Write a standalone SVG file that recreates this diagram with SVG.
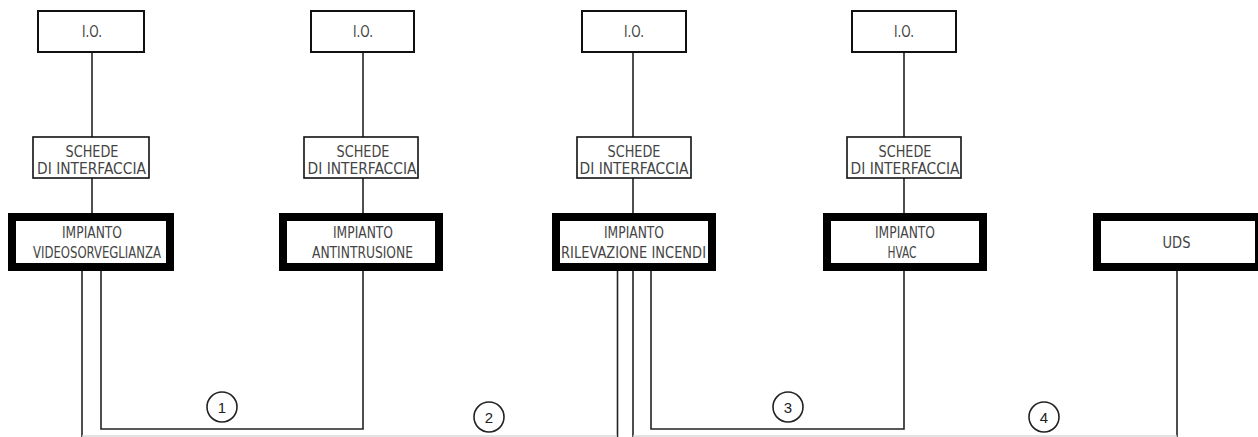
<svg xmlns="http://www.w3.org/2000/svg" width="1258" height="437" viewBox="0 0 1258 437">
<style>
.io{fill:#fff;stroke:#111;stroke-width:2}
.sc{fill:#fff;stroke:#111;stroke-width:1.6}
.imp{fill:#fff;stroke:#000;stroke-width:8}
.t{font-family:"DejaVu Sans Condensed","Liberation Sans",sans-serif;font-size:15px;fill:#444;text-anchor:middle}
.n{font-family:"Liberation Sans",sans-serif;font-size:15px;fill:#222;text-anchor:middle}
.w{fill:none;stroke:#222;stroke-width:1.6}
.c{fill:#fff;stroke:#222;stroke-width:1.6}
</style>
<rect width="1258" height="437" fill="#fff"/>
<g id="connectors">
<line class="w" x1="92" y1="52" x2="92" y2="137"/>
<line class="w" x1="92" y1="178" x2="92" y2="213"/>
<line class="w" x1="363" y1="52" x2="363" y2="137"/>
<line class="w" x1="363" y1="178" x2="363" y2="213"/>
<line class="w" x1="633" y1="52" x2="633" y2="137"/>
<line class="w" x1="633" y1="178" x2="633" y2="213"/>
<line class="w" x1="904" y1="52" x2="904" y2="137"/>
<line class="w" x1="904" y1="178" x2="904" y2="213"/>
<line class="w" x1="82" y1="271" x2="82" y2="437"/>
<polyline class="w" points="101,271 101,429 363,429 363,271"/>
<line class="w" x1="617.5" y1="271" x2="617.5" y2="437"/>
<line class="w" x1="633" y1="271" x2="633" y2="437"/>
<polyline class="w" points="651,271 651,429 904,429 904,271"/>
<line class="w" x1="1177" y1="271" x2="1177" y2="437"/>
<line x1="82" y1="436" x2="617" y2="436" stroke="#d8d8d8" stroke-width="1.5"/>
<line x1="633" y1="436" x2="1177" y2="436" stroke="#d8d8d8" stroke-width="1.5"/>
</g>
<g id="io1"><rect class="io" x="38" y="11" width="106" height="41"/><text class="t" x="92" y="37" textLength="20" lengthAdjust="spacingAndGlyphs">I.O.</text></g>
<g id="io2"><rect class="io" x="311" y="11" width="103" height="41"/><text class="t" x="363" y="37" textLength="20" lengthAdjust="spacingAndGlyphs">I.O.</text></g>
<g id="io3"><rect class="io" x="582" y="11" width="104" height="41"/><text class="t" x="634" y="37" textLength="20" lengthAdjust="spacingAndGlyphs">I.O.</text></g>
<g id="io4"><rect class="io" x="852" y="11" width="104" height="41"/><text class="t" x="904" y="37" textLength="20" lengthAdjust="spacingAndGlyphs">I.O.</text></g>
<g id="schede1"><rect class="sc" x="33" y="137" width="116" height="41"/><text class="t" x="92" y="157" textLength="53" lengthAdjust="spacingAndGlyphs">SCHEDE</text><text class="t" x="91.5" y="174" textLength="109" lengthAdjust="spacingAndGlyphs">DI  INTERFACCIA</text></g>
<g id="schede2"><rect class="sc" x="304" y="137" width="114" height="41"/><text class="t" x="363" y="157" textLength="53" lengthAdjust="spacingAndGlyphs">SCHEDE</text><text class="t" x="362" y="174" textLength="109" lengthAdjust="spacingAndGlyphs">DI  INTERFACCIA</text></g>
<g id="schede3"><rect class="sc" x="577" y="137" width="114" height="41"/><text class="t" x="634" y="157" textLength="53" lengthAdjust="spacingAndGlyphs">SCHEDE</text><text class="t" x="634" y="174" textLength="109" lengthAdjust="spacingAndGlyphs">DI  INTERFACCIA</text></g>
<g id="schede4"><rect class="sc" x="847" y="137" width="114" height="41"/><text class="t" x="905" y="157" textLength="53" lengthAdjust="spacingAndGlyphs">SCHEDE</text><text class="t" x="905" y="174" textLength="109" lengthAdjust="spacingAndGlyphs">DI  INTERFACCIA</text></g>
<g id="impianto1"><rect class="imp" x="12" y="217" width="158" height="50"/><text class="t" x="92" y="238" textLength="60" lengthAdjust="spacingAndGlyphs">IMPIANTO</text><text class="t" x="97" y="258" textLength="128" lengthAdjust="spacingAndGlyphs">VIDEOSORVEGLIANZA</text></g>
<g id="impianto2"><rect class="imp" x="283" y="217" width="156" height="50"/><text class="t" x="363" y="238" textLength="60" lengthAdjust="spacingAndGlyphs">IMPIANTO</text><text class="t" x="362.5" y="258" textLength="101" lengthAdjust="spacingAndGlyphs">ANTINTRUSIONE</text></g>
<g id="impianto3"><rect class="imp" x="556" y="217" width="156" height="50"/><text class="t" x="634" y="238" textLength="60" lengthAdjust="spacingAndGlyphs">IMPIANTO</text><text class="t" x="633.5" y="258" textLength="145" lengthAdjust="spacingAndGlyphs">RILEVAZIONE  INCENDI</text></g>
<g id="impianto4"><rect class="imp" x="827" y="217" width="156" height="50"/><text class="t" x="905" y="238" textLength="60" lengthAdjust="spacingAndGlyphs">IMPIANTO</text><text class="t" x="902" y="258" textLength="29" lengthAdjust="spacingAndGlyphs">HVAC</text></g>
<g id="uds"><rect class="imp" x="1097" y="217" width="162" height="50"/><text class="t" x="1176.5" y="248" textLength="28" lengthAdjust="spacingAndGlyphs">UDS</text></g>
<g id="label1"><circle class="c" cx="222" cy="407" r="15"/><text class="n" x="222" y="413">1</text></g>
<g id="label2"><circle class="c" cx="489" cy="417" r="15"/><text class="n" x="489" y="423">2</text></g>
<g id="label3"><circle class="c" cx="788" cy="407" r="15"/><text class="n" x="788" y="413">3</text></g>
<g id="label4"><circle class="c" cx="1044" cy="417" r="15"/><text class="n" x="1044" y="423">4</text></g>
</svg>
